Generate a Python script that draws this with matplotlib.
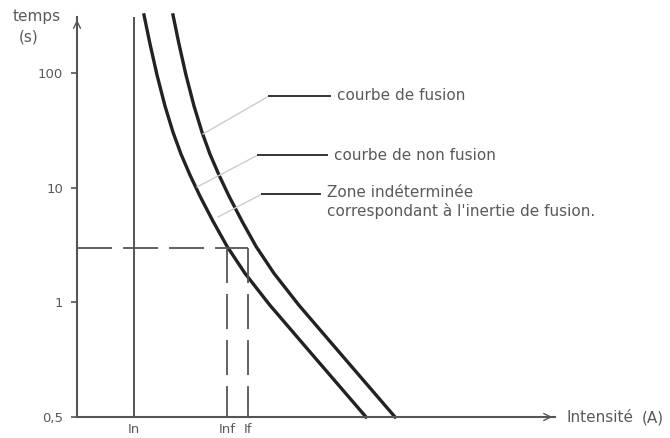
import numpy as np
import matplotlib.pyplot as plt

plt.rcParams['font.family'] = ['DejaVu Sans']

# Intensité en multiples de In, temps en secondes
x_ticks = [1.0, 2.632, 3.0]
x_labels = ['In', 'Inf', 'If']
y_ticks = [0.5, 1, 10, 100]
y_labels = ['0,5', '1', '10', '100']

# temps communs aux deux courbes
t_points = [321, 179.2, 96.0, 51.5, 30.5, 19.6, 12.9, 8.43, 5.10, 3.08, 1.79, 0.987, 0.799, 0.5]

# courbe de non fusion (gauche)
x_non_fusion = [1.175, 1.281, 1.404, 1.544, 1.684, 1.825, 1.982, 2.158, 2.386, 2.632,
                2.947, 3.386, 4.035, 5.070]

# courbe de fusion (droite)
x_fusion = [1.684, 1.789, 1.912, 2.053, 2.193, 2.333, 2.491, 2.667, 2.895, 3.140,
            3.456, 3.895, 4.544, 5.579]

t_limite = 3.0

W, H = 670, 438
GREY = '#555555'
TXT = '#5a5a5a'


def fx(px):
    return px / W


def fy(py):
    return 1 - py / H


# échelle : log au-dessus de 1 s, linéaire entre 0,5 et 1
def forward(y):
    y = np.asarray(y, dtype=float)
    return np.where(y >= 1, np.log10(np.maximum(y, 1e-9)), (y - 1) * 2)


def inverse(p):
    p = np.asarray(p, dtype=float)
    return np.where(p >= 0, 10 ** p, 1 + p / 2)


fig = plt.figure(figsize=(6.7, 4.38), dpi=100)
ax = fig.add_axes([fx(77), fy(417), fx(555 - 77), (417 - 17) / H])
ax.set_yscale('function', functions=(forward, inverse))
ax.set_xlim(0, (555 - 77) / 57)
ax.set_ylim(0.5, 308)

# courbes
ax.plot(x_non_fusion, t_points, color='#222222', lw=2.4, clip_on=False)
ax.plot(x_fusion, t_points, color='#222222', lw=2.4, clip_on=False)

# In
ax.axvline(x_ticks[0], color=GREY, lw=1.4)

# zone pointillée
dash = (0, (19.4, 6.1))
ax.plot([0, x_ticks[2]], [t_limite, t_limite], color=GREY, lw=1.3, linestyle=dash)
ax.plot([x_ticks[1], x_ticks[1]], [t_limite, 0.5], color=GREY, lw=1.3, linestyle=dash)
ax.plot([x_ticks[2], x_ticks[2]], [t_limite, 0.5], color=GREY, lw=1.3, linestyle=dash)

# axes
for s in ['top', 'right']:
    ax.spines[s].set_visible(False)
for s in ['left', 'bottom']:
    ax.spines[s].set_color(GREY)
    ax.spines[s].set_linewidth(1.5)

ax.set_yticks(y_ticks)
ax.set_yticklabels(y_labels)
ax.yaxis.set_minor_locator(plt.NullLocator())
ax.tick_params(axis='y', length=4, width=1.2, color=GREY, labelcolor=TXT,
               labelsize=9.5, pad=6)
ax.set_xticks(x_ticks)
ax.set_xticklabels(x_labels)
ax.tick_params(axis='x', length=0, labelcolor=TXT, labelsize=9.5, pad=4)

# flèches
arrow = dict(arrowstyle='->,head_length=0.5,head_width=0.25', color=GREY, lw=1.0)
ax.annotate('', xy=(1, 0), xytext=(0.97, 0), xycoords='axes fraction', arrowprops=arrow)
ax.annotate('', xy=(0, 1), xytext=(0, 0.97), xycoords='axes fraction', arrowprops=arrow)

# titres des axes
fig.text(fx(13), fy(17), 'temps', color=TXT, fontsize=11, va='center', ha='left')
fig.text(fx(19), fy(37), '(s)', color=TXT, fontsize=11, va='center', ha='left')
fig.text(fx(567), fy(418), 'Intensité', color=TXT, fontsize=11, va='center', ha='left')
fig.text(fx(642), fy(418), '(A)', color=TXT, fontsize=11, va='center', ha='left')

# légendes avec traits de rappel
notes = [
    ((203, 134), (269, 96), 330, 'courbe de fusion'),
    ((197, 187), (258, 155), 327, 'courbe de non fusion'),
    ((218, 217), (262, 194), 320, 'Zone indéterminée\ncorrespondant à l\'inertie de fusion.'),
]
for (x0, y0), (x1, y1), x2, txt in notes:
    fig.add_artist(plt.Line2D([fx(x0), fx(x1)], [fy(y0), fy(y1)], color='#cccccc', lw=1.0))
    fig.add_artist(plt.Line2D([fx(x1), fx(x2)], [fy(y1), fy(y1)], color='#333333', lw=1.4))
    if '\n' in txt:
        fig.text(fx(x2 + 7), fy(y1 - 9), txt, color=TXT, fontsize=11, va='top', ha='left',
                 linespacing=1.2)
    else:
        fig.text(fx(x2 + 7), fy(y1), txt, color=TXT, fontsize=11, va='center', ha='left')

fig.savefig('out.png', dpi=100)
